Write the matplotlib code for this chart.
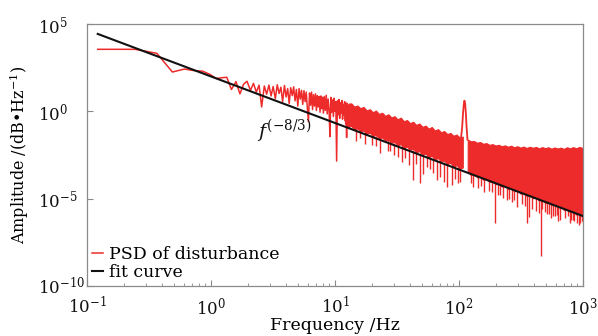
import numpy as np
import matplotlib
matplotlib.use("Agg")
import matplotlib.pyplot as plt

RED, INK, FRAME = "#ee2b2b", "#111111", "#8a8a8a"
plt.rcParams.update({"font.family": ["DejaVu Serif", "DejaVu Sans"],
                     "mathtext.fontset": "dejavuserif", "font.size": 12.5,
                     "axes.edgecolor": FRAME, "axes.linewidth": 0.9,
                     "xtick.color": FRAME, "ytick.color": FRAME,
                     "xtick.labelcolor": INK, "ytick.labelcolor": INK})

# PSD, low-frequency part read point by point (log10 amplitude)
psd_f = [0.122, 0.244, 0.366, 0.488, 0.610, 0.732, 0.854, 0.977, 1.10, 1.22,
         1.34, 1.46, 1.59, 1.71, 1.83, 1.95, 2.08, 2.20, 2.32, 2.44,
         2.56, 2.69, 2.81, 2.93, 3.05, 3.17, 3.30, 3.42, 3.54, 3.66,
         3.78, 3.91, 4.03, 4.15, 4.27, 4.39, 4.52, 4.64, 4.76, 4.88,
         5.01, 5.13, 5.25, 5.37, 5.49, 5.62, 5.74, 5.86, 5.98, 6.10,
         6.23, 6.35, 6.47, 6.59, 6.71, 6.84, 6.96, 7.08, 7.20, 7.32,
         7.45, 7.57, 7.69, 7.81, 7.93, 8.06, 8.20, 8.35, 8.50, 8.65,
         8.80, 8.95, 9.10, 9.25, 9.40, 9.55, 9.70, 9.85, 10.0, 10.15,
         10.3, 10.45, 10.6, 10.75, 10.9, 11.05, 11.2, 11.35, 11.5, 11.65,
         11.8, 11.95, 12.1, 12.25, 12.4, 12.55, 12.7, 12.85, 13.0, 13.15,
         13.3, 13.45, 13.6, 13.75, 13.9, 14.05]
psd_log = [3.55, 3.55, 3.32, 2.25, 2.42, 2.33, 2.30, 2.12, 1.88, 1.92,
           1.95, 1.25, 1.70, 1.00, 1.55, 1.72, 1.20, 1.60, 1.10, 1.50,
           0.25, 1.45, 0.98, 1.50, 0.88, 1.42, 0.72, 1.52, 1.02, 1.38,
           0.55, 1.48, 0.82, 1.30, 0.45, 1.35, 0.90, 1.40, 0.60, 1.25,
           0.30, 1.30, 0.70, 1.20, 0.40, 1.18, 0.55, 1.10, 0.20, -0.60,
           1.05, 0.35, 1.10, 0.10, 0.95, 0.30, 1.00, 0.05, 0.90, 0.25,
           0.85, -0.05, 0.88, 0.15, 0.80, -0.10, 0.85, 0.05, 0.92, -0.15,
           0.70, 0.10, -1.45, 0.80, -0.05, 0.65, -0.30, 0.75, 0.00, 0.55,
           -2.85, 0.60, -0.20, 0.68, -0.40, 0.50, -0.10, 0.62, -0.45, 0.40,
           -0.20, 0.55, -0.55, 0.35, -1.50, 0.45, -0.40, 0.30, -0.60, 0.42,
           -0.35, 0.25, -0.70, 0.38, -0.50, 0.20]

# dense band: upper / lower envelope below and above the resonance
band1_f = [12.02, 12.74, 13.49, 14.29, 15.14, 16.03, 16.98, 17.99, 19.05,
           20.18, 21.38, 22.64, 23.99, 25.41, 26.92, 28.51, 30.20, 31.99,
           33.88, 35.89, 38.02, 40.27, 42.66, 45.19, 47.86, 50.70, 53.70,
           56.89, 60.26, 63.83, 67.61, 71.62, 75.86, 80.35, 85.11, 90.16,
           95.50, 101.2, 107.2]
band1_hi = [0.55, 0.38, 0.46, 0.27, 0.33, 0.18, 0.25, 0.05, 0.12, -0.05,
            0.04, -0.15, -0.08, -0.26, -0.17, -0.35, -0.28, -0.46, -0.36,
            -0.57, -0.50, -0.68, -0.60, -0.78, -0.70, -0.89, -0.82, -0.99,
            -0.90, -1.10, -1.02, -1.20, -1.13, -1.30, -1.24, -1.40, -1.33,
            -1.50, -1.45]
band1_lo = [-0.70, -0.90, -0.83, -1.05, -0.98, -1.15, -1.10, -1.30, -1.22,
            -1.42, -1.35, -1.55, -1.50, -1.68, -1.62, -1.80, -1.75, -1.95,
            -1.88, -2.08, -2.02, -2.20, -2.15, -2.35, -2.28, -2.48, -2.42,
            -2.62, -2.55, -2.75, -2.68, -2.88, -2.82, -3.02, -2.95, -3.15,
            -3.08, -3.28, -3.22]
band2_f = [117.5, 124.5, 131.8, 139.6, 147.9, 156.7, 166.0, 175.8, 186.2,
           197.2, 208.9, 221.3, 234.4, 248.3, 263.0, 278.6, 295.1, 312.6,
           331.1, 350.8, 371.5, 393.6, 416.9, 441.6, 467.7, 495.5, 524.8,
           555.9, 588.8, 623.7, 660.7, 699.8, 741.3, 785.2, 831.8, 881.0,
           933.3, 988.6, 1000]
band2_hi = [-1.62, -1.72, -1.70, -1.80, -1.76, -1.86, -1.82, -1.92, -1.88,
            -1.96, -1.92, -2.00, -1.95, -2.03, -1.97, -2.06, -2.00, -2.08,
            -2.02, -2.10, -2.03, -2.09, -2.04, -2.12, -2.05, -2.11, -2.06,
            -2.14, -2.07, -2.13, -2.08, -2.15, -2.06, -2.12, -2.05, -2.12,
            -2.04, -2.10, -2.06]
band2_lo = [-3.45, -3.65, -3.58, -3.78, -3.72, -3.92, -3.85, -4.05, -3.98,
            -4.18, -4.12, -4.32, -4.25, -4.45, -4.38, -4.58, -4.52, -4.72,
            -4.65, -4.85, -4.78, -4.98, -4.92, -5.12, -5.05, -5.25, -5.18,
            -5.38, -5.32, -5.52, -5.45, -5.65, -5.58, -5.78, -5.72, -5.92,
            -5.85, -6.05, -6.00]

# resonance peak near 110 Hz
peak_f = [104, 106, 107.5, 109, 110.5, 112, 113.5, 115, 117]
peak_log = [-1.45, -0.90, -0.20, 0.35, 0.61, 0.45, -0.10, -0.90, -1.62]

# downward spikes: frequency, bottom, top (log10 amplitude)
dip_f = [14.8, 16.0, 17.6, 19.9, 21.5, 23.0, 26.5, 28.0, 30.0, 32.0, 34.8,
         37.0, 39.5, 42.8, 45.0, 48.5, 51.0, 55.5, 58.0, 62.0, 66.5, 70.0,
         75.0, 79.5, 87.5, 92.0, 98.6, 102.0, 125, 130, 142, 150, 160, 175,
         185, 195, 206, 215, 225, 242, 255, 268, 280, 295, 320, 340, 356,
         366, 385, 420, 440, 458, 470, 495, 510, 530, 550, 575, 590, 612,
         630, 650, 692, 720, 760, 780, 800, 830, 850, 890, 920, 946, 975,
         995]
dip_bot = [-1.70, -1.50, -1.85, -1.95, -2.00, -2.40, -2.25, -2.30, -2.50,
           -2.60, -2.90, -2.70, -3.05, -3.93, -3.00, -4.12, -3.60, -3.20,
           -3.30, -3.55, -3.95, -3.74, -4.05, -4.31, -4.22, -3.90, -4.12,
           -4.03, -4.10, -4.31, -4.40, -4.30, -4.60, -4.55, -4.60, -6.41,
           -4.79, -4.80, -4.95, -5.07, -5.00, -5.20, -5.10, -5.46, -5.30,
           -5.40, -6.41, -6.03, -5.60, -5.70, -5.80, -8.30, -5.60, -5.75,
           -5.90, -5.90, -6.10, -6.00, -6.00, -5.93, -6.30, -6.20, -5.60,
           -6.10, -6.00, -6.40, -6.20, -6.20, -6.30, -6.41, -6.50, -6.41,
           -6.30, -6.40]
dip_top = [-0.9, -1.0, -1.1, -1.2, -1.4, -1.4, -1.6, -1.7, -1.8, -1.9,
           -1.9, -2.0, -2.1, -2.2, -2.3, -2.4, -2.5, -2.5, -2.6, -2.7, -2.8,
           -2.8, -2.9, -3.0, -3.1, -3.1, -3.2, -3.3, -3.6, -3.5, -3.6, -3.8,
           -3.8, -3.9, -4.0, -4.0, -4.1, -4.2, -4.2, -4.3, -4.4, -4.4, -4.5,
           -4.5, -4.6, -4.7, -4.7, -4.8, -4.9, -4.9, -5.0, -5.0, -5.0, -5.1,
           -5.1, -5.2, -5.2, -5.3, -5.3, -5.3, -5.4, -5.4, -5.4, -5.5, -5.6,
           -5.6, -5.6, -5.7, -5.7, -5.8, -5.8, -5.8, -5.9, -5.9]

# f^(-8/3) fit, end points
fit_f = [0.122, 1000]
fit_amp = [2.7e4, 1.0e-6]

p = lambda v: 10.0 ** np.asarray(v)

fig = plt.figure(figsize=(5.98, 3.36), dpi=100)
ax = fig.add_axes([0.1455, 0.149, 0.8295, 0.7796])
ax.plot(psd_f, p(psd_log), color=RED, lw=1.1, label="PSD of disturbance")
ax.fill_between(band1_f, p(band1_lo), p(band1_hi), color=RED, lw=0.8,
                edgecolor=RED)
ax.fill_between(band2_f, p(band2_lo), p(band2_hi), color=RED, lw=0.8,
                edgecolor=RED)
ax.plot(peak_f, p(peak_log), color=RED, lw=1.3)
ax.vlines(dip_f, p(dip_bot), p(dip_top), color=RED, lw=1.0)
ax.plot(fit_f, fit_amp, color=INK, lw=1.5, label="fit curve", zorder=5)

ax.set_xscale("log"); ax.set_yscale("log")
ax.set_xlim(0.1, 1000); ax.set_ylim(1e-10, 1e5)
ax.set_yticks([1e-10, 1e-5, 1e0, 1e5])
ax.yaxis.set_minor_locator(matplotlib.ticker.NullLocator())
ax.tick_params(which="both", direction="in")
ax.tick_params(which="major", length=4, width=0.8, labelsize=12)
ax.tick_params(axis="x", pad=7.5)
ax.tick_params(axis="y", pad=35)
for t in ax.get_yticklabels():
    t.set_horizontalalignment("left")
ax.set_xlabel("Frequency /Hz", labelpad=-1)
ax.set_ylabel("Amplitude /(dB\u2022Hz$^{-1}$)", fontsize=11.5, labelpad=0)
ax.yaxis.set_label_coords(-0.112, 0.5)
ax.text(2.35, 10 ** -1.55, r"$f^{(-8/3)}$", fontsize=14, color=INK)
ax.legend(frameon=False, loc="lower left", handlelength=0.6,
          handletextpad=0.35, labelspacing=0.05, borderaxespad=0.15,
          borderpad=0.15)
fig.savefig("out.png", dpi=100)
